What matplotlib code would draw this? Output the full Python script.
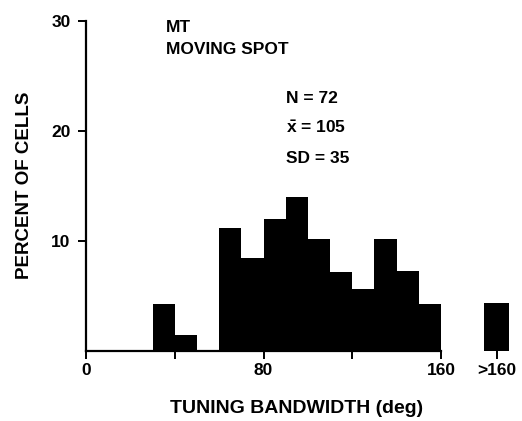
import matplotlib
matplotlib.use('Agg')
import matplotlib.pyplot as plt
import numpy as np

# histogram of tuning bandwidth, 10 deg bins from 30 to 160, plus a >160 bin
bin_edges = [30, 40, 50, 60, 70, 80, 90, 100, 110, 120, 130, 140, 150, 160]
percents = [4.2, 1.4, 0.0, 11.1, 8.4, 12.0, 14.0, 10.1, 7.1, 5.6, 10.1, 7.2, 4.2]
over_pos = 185
over_pct = 4.3
xticks = [0, 40, 80, 120, 160, 185]
xticklabels = ['0', '', '80', '', '160', '>160']
yticks = [10, 20, 30]
stats_text = ['N = 72', r'$\bar{\mathrm{x}}$ = 105', 'SD = 35']

plt.rcParams['font.family'] = ['Liberation Sans', 'DejaVu Sans']
plt.rcParams['font.weight'] = 'bold'
plt.rcParams['mathtext.fontset'] = 'custom'
plt.rcParams['mathtext.rm'] = 'Liberation Sans:bold'
plt.rcParams['mathtext.it'] = 'Liberation Sans:bold'
plt.rcParams['mathtext.bf'] = 'Liberation Sans:bold'

fig = plt.figure(figsize=(5.22, 4.21), dpi=100)
ax = fig.add_axes([86 / 522., (421 - 350.5) / 421., 432.7 / 522., 329.8 / 421.])

lefts = np.array(bin_edges[:-1])
widths = np.diff(bin_edges)
ax.bar(lefts, percents, width=widths, align='edge', color='black', edgecolor='none')
ax.bar(over_pos - 5.5, over_pct, width=11, align='edge', color='black', edgecolor='none')

ax.set_xlim(0, 195)
ax.set_ylim(0, 30)

for s in ['top', 'right']:
    ax.spines[s].set_visible(False)
ax.spines['left'].set_linewidth(1.6)
ax.spines['bottom'].set_linewidth(1.6)
ax.spines['bottom'].set_bounds(0, 160)

ax.set_xticks(xticks)
ax.set_xticklabels(xticklabels, fontsize=12.5, fontweight='bold')
ax.set_yticks(yticks)
ax.set_yticklabels([str(v) for v in yticks], fontsize=12.5, fontweight='bold')
ax.tick_params(axis='x', direction='out', length=6, width=1.4, pad=3)
ax.tick_params(axis='y', direction='out', length=6, width=1.4, pad=5)

ax.set_xlabel('TUNING BANDWIDTH (deg)', fontsize=14, fontweight='bold', labelpad=16)
ax.xaxis.label.set_x(0.486)
ax.set_ylabel('PERCENT OF CELLS', fontsize=13.5, fontweight='bold', labelpad=13)

ax.text(36, 28.97, 'MT', fontsize=12.5, fontweight='bold', va='baseline')
ax.text(36, 26.97, 'MOVING SPOT', fontsize=12.5, fontweight='bold', va='baseline')
for i, t in enumerate(stats_text):
    ax.text(90, 22.95 - i * 2.72, t, fontsize=12.5, fontweight='bold', va='center')

fig.savefig('out.png', dpi=100)
